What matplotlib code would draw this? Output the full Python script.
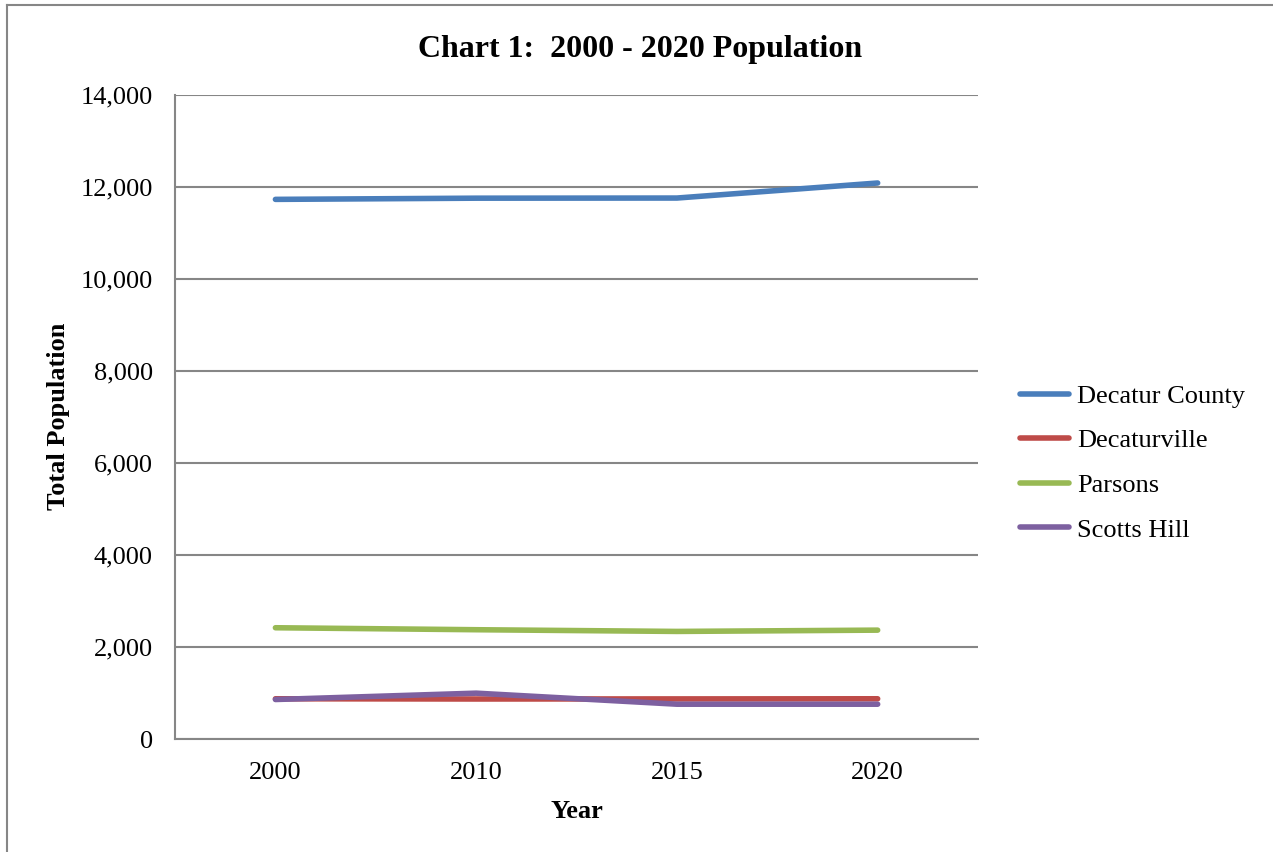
import matplotlib.pyplot as plt
import matplotlib.ticker as mticker
from matplotlib.lines import Line2D

plt.rcParams['font.family'] = ['Liberation Serif', 'DejaVu Serif']

years = ['2000', '2010', '2015', '2020']
decatur_county = [11731, 11757, 11760, 12087]
decaturville = [875, 870, 872, 875]
parsons = [2419, 2376, 2339, 2367]
scotts_hill = [859, 997, 757, 757]

series = [
    ('Decatur County', decatur_county, '#4A7EBB'),
    ('Decaturville', decaturville, '#BE4B48'),
    ('Parsons', parsons, '#98B954'),
    ('Scotts Hill', scotts_hill, '#7D60A0'),
]

fig = plt.figure(figsize=(12.73, 8.52), dpi=100)
ax = fig.add_axes([0.1375, 0.1326, 0.6308, 0.7559])

x = list(range(len(years)))
for name, vals, color in series:
    ax.plot(x, vals, color=color, linewidth=4.0, solid_capstyle='round', label=name)

ax.set_xlim(-0.5, len(years) - 0.5)
ax.set_ylim(0, 14000)
ax.set_xticks(x)
ax.set_xticklabels(years)
ax.yaxis.set_major_locator(mticker.MultipleLocator(2000))
ax.yaxis.set_major_formatter(mticker.FuncFormatter(lambda v, p: f'{int(v):,}'))
ax.tick_params(axis='both', length=0, labelsize=19, colors='black')
ax.tick_params(axis='x', pad=16.5)
ax.tick_params(axis='y', pad=16)

ax.grid(axis='y', color='#868686', linewidth=1.5)
ax.set_axisbelow(True)
for side in ['top', 'right']:
    ax.spines[side].set_visible(False)
for side in ['left', 'bottom']:
    ax.spines[side].set_color('#868686')
    ax.spines[side].set_linewidth(1.5)

# 标题和坐标轴标签
fig.text(0.503, 1 - 49 / 852, 'Chart 1:  2000 - 2020 Population',
         ha='center', va='center', fontsize=23, fontweight='bold')
fig.text(58 / 1273, 1 - 416 / 852, 'Total Population', rotation=90,
         ha='center', va='center', fontsize=19, fontweight='bold')
fig.text(577 / 1273, 1 - 811 / 852, 'Year',
         ha='center', va='center', fontsize=19, fontweight='bold')

leg = fig.legend(loc='center left', bbox_to_anchor=(1020 / 1273, 1 - 463 / 852),
                 frameon=False, fontsize=19, handlelength=1.85,
                 handletextpad=0.3, labelspacing=0.8, borderpad=0,
                 borderaxespad=0)

# 外框
fig.add_artist(Line2D([7 / 1273, 1], [1 - 5 / 852, 1 - 5 / 852],
                      color='#868686', linewidth=1.5))
fig.add_artist(Line2D([7 / 1273, 7 / 1273], [0, 1 - 5 / 852],
                      color='#868686', linewidth=1.5))

fig.savefig('out.png', dpi=100)
